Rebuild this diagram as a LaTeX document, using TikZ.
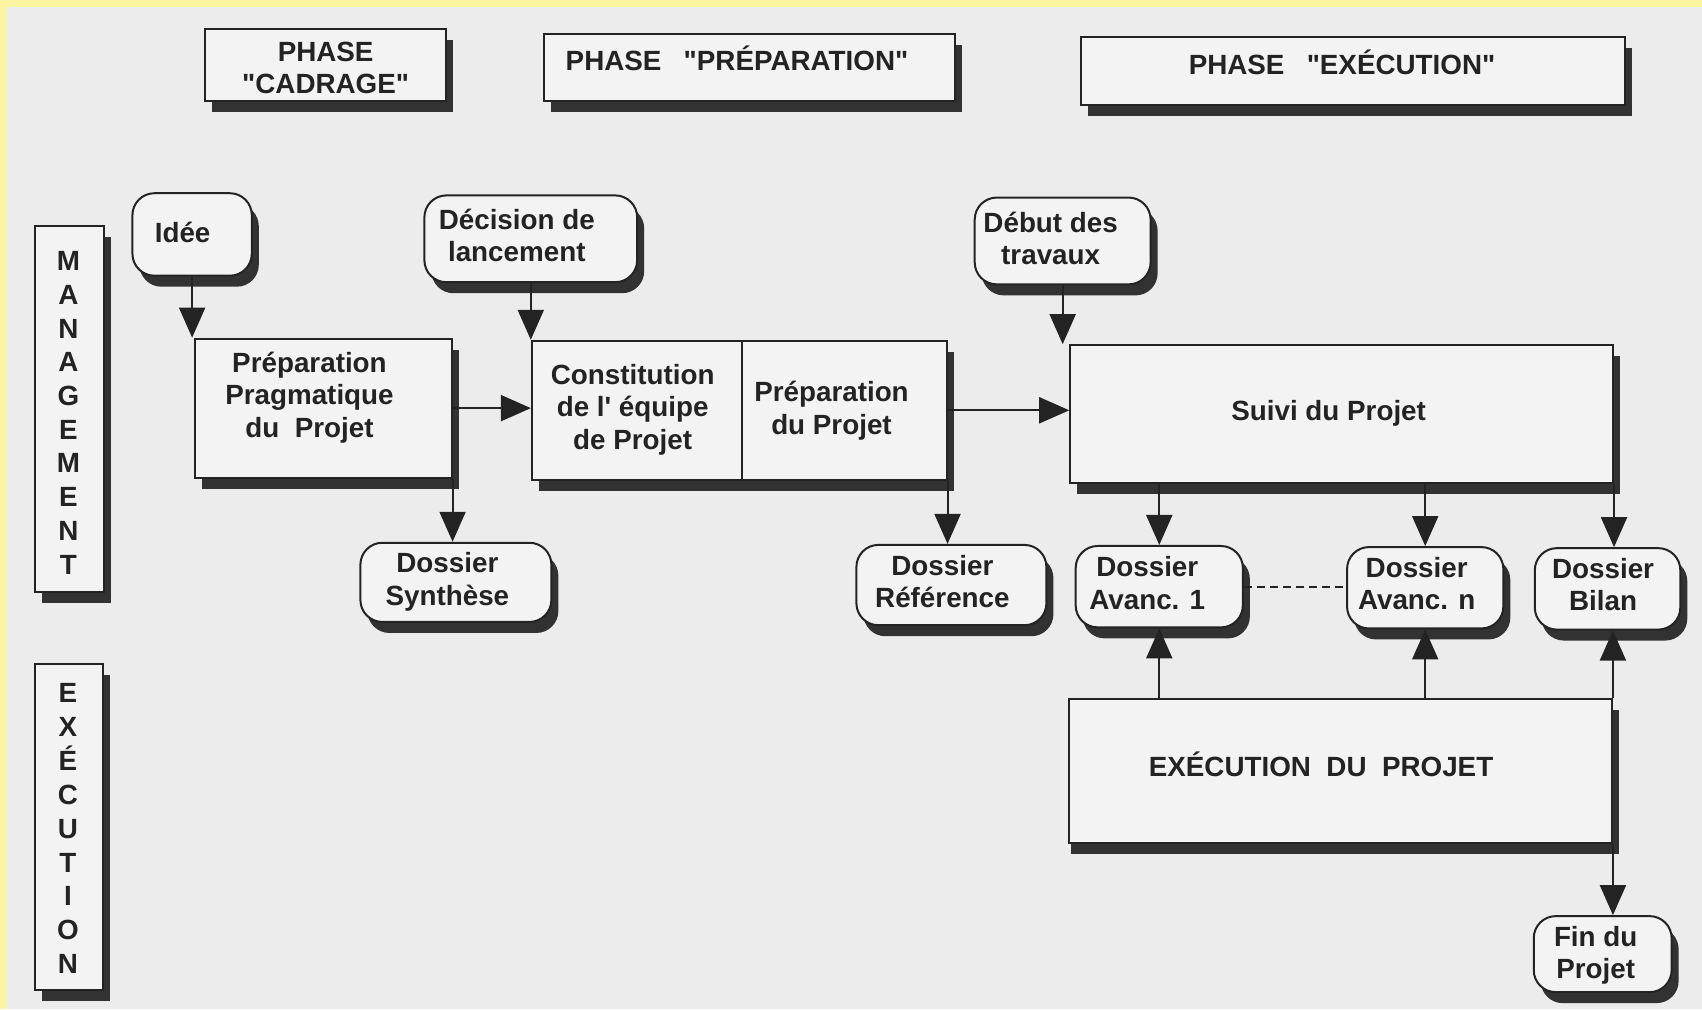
\documentclass[tikz,border=0pt]{standalone}
\usepackage{fontspec}
\setmainfont{Liberation Sans}
\usetikzlibrary{arrows.meta,shadows}
\definecolor{bg}{RGB}{236,236,236}
\definecolor{boxfill}{RGB}{243,243,243}
\definecolor{ink}{RGB}{35,35,35}
\definecolor{shade}{RGB}{50,50,50}
\definecolor{edgey}{RGB}{250,245,160}
\newcommand\dfont{\fontsize{27.8}{32.5}\selectfont\bfseries}
\newcommand\vfont{\fontsize{27.8}{33.7}\selectfont\bfseries}
\newcommand\tx[3]{\hspace*{-#1}\raisebox{#2}[\height][\depth]{\begin{tabular}{@{}c@{}}#3\end{tabular}}}
\newcommand\qq{\textquotedbl}
\tikzset{
  base/.style={draw=ink, line width=2pt, fill=boxfill, text=ink, inner sep=0pt,
    font=\dfont, drop shadow={shadow xshift=7pt, shadow yshift=-11pt, fill=shade, opacity=1}},
  rbox/.style={base, rectangle},
  roundbox/.style={base, rounded corners=22pt},
  arr/.style={draw=ink, line width=2pt, -{Triangle[width=26pt,length=30pt]}},
  dashline/.style={draw=ink, line width=2pt, dash pattern=on 8pt off 5pt},
}
\begin{document}
\begin{tikzpicture}[x=1.0855pt,y=-1.0855pt]
\fill[bg] (0,0) rectangle (1568,930);
\useasboundingbox (0,0) rectangle (1568,930);
\fill[edgey] (0,0) rectangle (1568,6);
\fill[edgey] (0,0) rectangle (6,930);

% phase headers
\node[rbox, minimum width=241pt, minimum height=71.6pt] (cad) at (300,60) {\tx{0pt}{-6pt}{PHASE\\\qq CADRAGE\qq}};
\node[rbox, minimum width=411.4pt, minimum height=67.3pt] (php) at (690.5,62) {\tx{25pt}{4pt}{PHASE\hspace{0.8em}\qq PRÉPARATION\qq}};
\node[rbox, minimum width=543.8pt, minimum height=68.4pt] (phe) at (1246.5,65.5) {\tx{22pt}{4pt}{PHASE\hspace{0.8em}\qq EXÉCUTION\qq}};

% side labels
\node[rbox, font=\vfont, minimum width=69.5pt, minimum height=365.8pt] (mgmt) at (64,376.5) {\tx{2pt}{-7pt}{M\\A\\N\\A\\G\\E\\M\\E\\N\\T}};
\node[rbox, font=\vfont, minimum width=68.4pt, minimum height=325.7pt] (exs) at (63.5,762) {\tx{2pt}{-4pt}{E\\X\\É\\C\\U\\T\\I\\O\\N}};

% events
\node[roundbox, minimum width=119.4pt, minimum height=82.5pt] (idee) at (177,216) {\tx{19pt}{-2pt}{Idée}};
\node[roundbox, minimum width=212.8pt, minimum height=86.8pt] (dec) at (489,220) {\tx{28pt}{0pt}{Décision de\\lancement}};
\node[roundbox, minimum width=175.9pt, minimum height=86.8pt] (deb) at (979,222) {\tx{24pt}{-1pt}{Début des\\travaux}};

% process boxes
\node[rbox, minimum width=256.2pt, minimum height=139pt] (prag) at (298,376) {\tx{28pt}{10pt}{Préparation\\Pragmatique\\du\ \ Projet}};
\node[rbox, minimum width=210.6pt, minimum height=139pt] (cons) at (587,378) {\tx{9pt}{0pt}{Constitution\\de l\textquotesingle\ équipe\\de Projet}};
\node[rbox, minimum width=204.1pt, minimum height=139pt] (prep) at (778,378) {\tx{26pt}{-1pt}{Préparation\\du Projet}};
\node[rbox, minimum width=542.8pt, minimum height=137.9pt] (suivi) at (1236,381.5) {\tx{26pt}{0pt}{Suivi du Projet}};
\node[rbox, minimum width=542.8pt, minimum height=144.4pt,
  drop shadow={shadow xshift=2pt, shadow yshift=-11pt, fill=shade, opacity=1}] (exec) at (1235,710.5) {\tx{39pt}{2pt}{EXÉCUTION\ \ DU\ \ PROJET}};

% documents
\node[roundbox, minimum width=191pt, minimum height=79.2pt] (synth) at (420,536.5) {\tx{17pt}{0pt}{Dossier\\Synthèse}};
\node[roundbox, minimum width=190pt, minimum height=80.3pt] (ref) at (876.5,539) {\tx{18pt}{0pt}{Dossier\\Référence}};
\node[roundbox, minimum width=167.2pt, minimum height=81.4pt] (av1) at (1068,540.5) {\tx{24pt}{0pt}{Dossier\\Avanc. 1}};
\node[roundbox, minimum width=156.3pt, minimum height=81.4pt] (avn) at (1313,541.5) {\tx{17pt}{1pt}{Dossier\\Avanc. n}};
\node[roundbox, minimum width=145.5pt, minimum height=81.4pt] (bilan) at (1481,542.5) {\tx{9pt}{1pt}{Dossier\\Bilan}};
\node[roundbox, minimum width=137.9pt, minimum height=76pt] (fin) at (1476.5,879) {\tx{14pt}{-2pt}{Fin du\\Projet}};

% connectors
\draw[arr] (idee.south) -- (idee.south |- prag.north);
\draw[arr] (dec.south) -- (dec.south |- cons.north);
\draw[arr] (deb.south) -- (deb.south |- suivi.north);
\draw[arr] (prag.east) -- (prag.east -| cons.west);
\draw[arr] (prep.east) -- (prep.east -| suivi.west);
\draw[arr] (prag.south east) -- (prag.south east |- synth.north);
\draw[arr] (prep.south east) -- (prep.south east |- ref.north);
\draw[arr] (suivi.south -| av1.north) -- (av1.north);
\draw[arr] (suivi.south -| avn.north) -- (avn.north);
\draw[arr] (suivi.south east) -- (suivi.south east |- bilan.north);
\draw[arr] (exec.north -| av1.south) -- (av1.south);
\draw[arr] (exec.north -| avn.south) -- (avn.south);
\draw[arr] (exec.north east) -- (exec.north east |- bilan.south);
\draw[arr] (exec.south east) -- (exec.south east |- fin.north);
\draw[dashline] (av1.east) -- (av1.east -| avn.west);
\end{tikzpicture}
\end{document}
